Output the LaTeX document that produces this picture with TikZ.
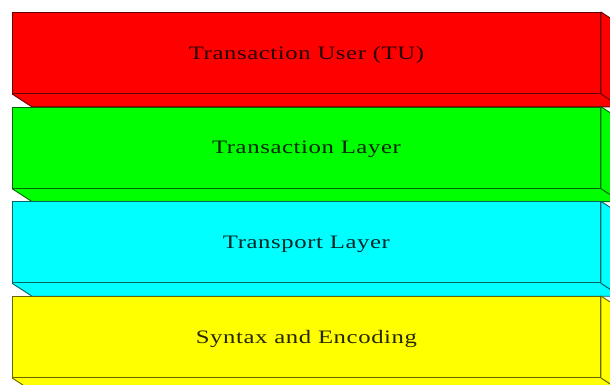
\documentclass[tikz,border=0pt]{standalone}
\usepackage{fontspec}
\setmainfont{Liberation Serif}
\definecolor{lred}{RGB}{255,0,0}
\definecolor{lgreen}{RGB}{0,255,0}
\definecolor{lcyan}{RGB}{0,255,255}
\definecolor{lyellow}{RGB}{255,255,0}
\newcommand{\layertext}[1]{\raisebox{-2pt}[\height][\depth]{\scalebox{1.3}[1]{\addfontfeature{LetterSpace=2.5}#1}}}
\begin{document}
\begin{tikzpicture}[x=1pt,y=-1pt,
  layerbox/.style={draw=#1!40!black, fill=#1, line width=0.9pt,
    minimum width=588pt, minimum height=81pt, inner sep=0pt,
    text=#1!15!black, font=\fontsize{19}{23}\selectfont},
  sideface/.style={draw=#1!40!black, fill=#1, line width=0.9pt, line join=round}]
\useasboundingbox (0,0) rectangle (610,385);
\begin{scope}
\clip (0,0) rectangle (610,385);
% each layer: front face plus a bottom and right face for depth
\foreach \y/\c/\n/\t in {12/lred/tu/Transaction User (TU),
                         106.7/lgreen/tl/Transaction Layer,
                         201.3/lcyan/tp/Transport Layer,
                         296/lyellow/se/Syntax and Encoding}{
  \node[layerbox=\c, anchor=north west] (\n) at (12,\y) {\layertext{\t}};
  \fill[\c] (\n.south west) -- (\n.south east) -- ([shift={(20,13)}]\n.south east)
     -- ([shift={(20,13)}]\n.south west) -- cycle;
  \draw[sideface=\c] (\n.south west) -- ([shift={(20,13)}]\n.south west)
     -- ([shift={(20,13)}]\n.south east) -- (\n.south east);
  \draw[sideface=\c] (\n.north east) -- ([shift={(20,13)}]\n.north east)
     -- ([shift={(20,13)}]\n.south east) -- (\n.south east) -- cycle;
  \node[layerbox=\c, anchor=north west] at (12,\y) {\layertext{\t}};
}
\end{scope}
\end{tikzpicture}
\end{document}
